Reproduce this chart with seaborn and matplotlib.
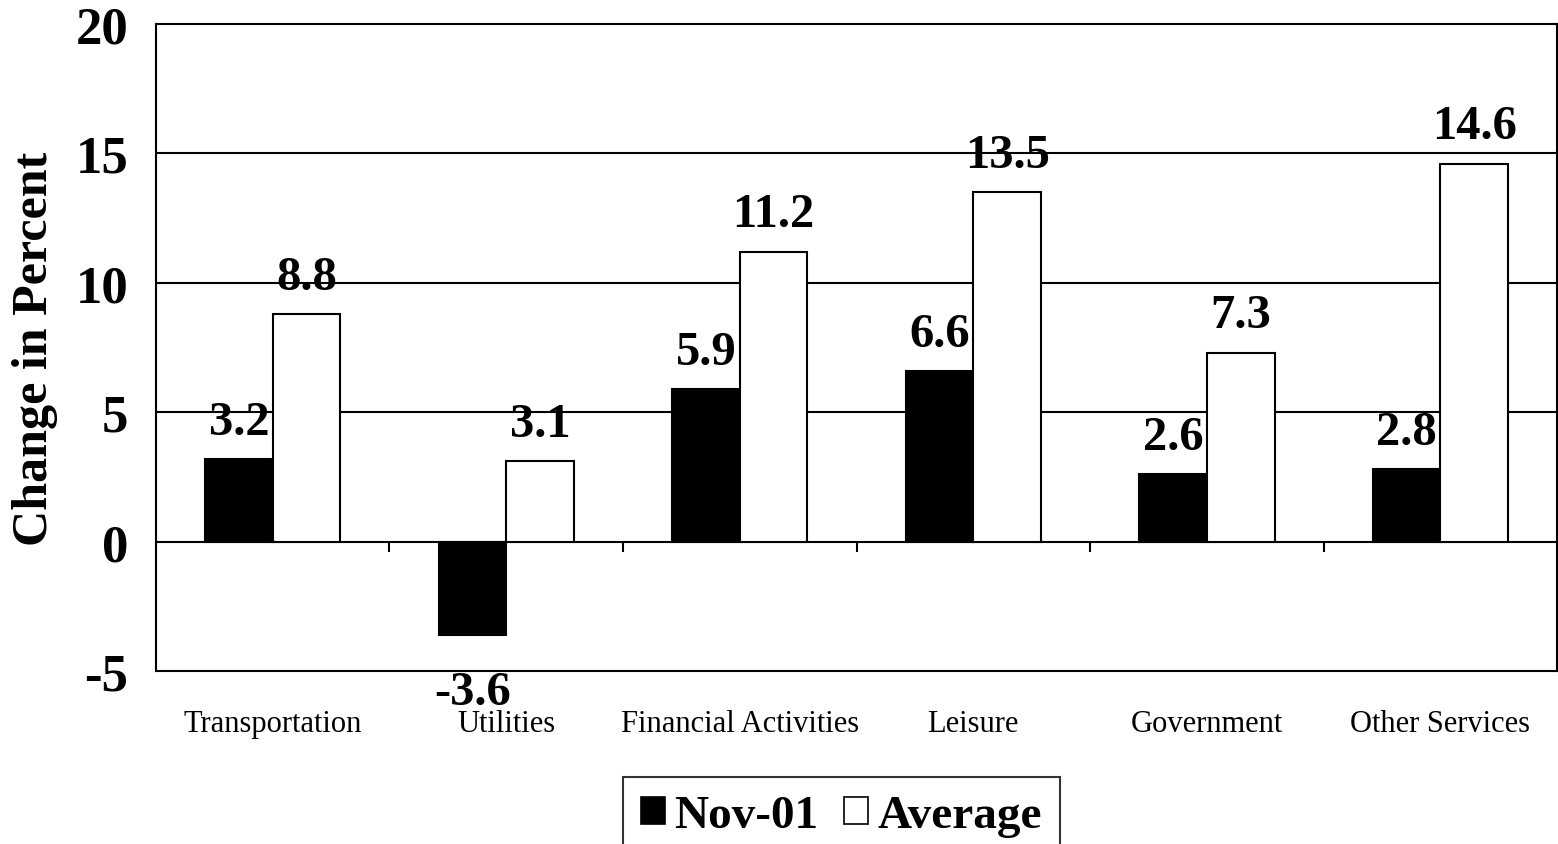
import matplotlib
matplotlib.use("Agg")
import matplotlib.pyplot as plt
from matplotlib.patches import Patch
import seaborn as sns
import pandas as pd
import numpy as np

categories = ["Transportation", "Utilities", "Financial Activities",
              "Leisure", "Government", "Other Services"]
nov01 = [3.2, -3.6, 5.9, 6.6, 2.6, 2.8]
average = [8.8, 3.1, 11.2, 13.5, 7.3, 14.6]
series_names = ["Nov-01", "Average"]
y_ticks = [-5, 0, 5, 10, 15, 20]

df = pd.DataFrame({
    "category": categories * 2,
    "value": nov01 + average,
    "series": [series_names[0]] * len(categories) + [series_names[1]] * len(categories),
})

sns.set_theme(style="white")
plt.rcParams["font.family"] = ["Liberation Serif", "DejaVu Serif"]
plt.rcParams["text.color"] = "black"
plt.rcParams["axes.labelcolor"] = "black"
plt.rcParams["xtick.color"] = "black"
plt.rcParams["ytick.color"] = "black"

fig = plt.figure(figsize=(15.58, 8.45), dpi=100)
ax = fig.add_axes([0.1001, 0.2047, 0.8993, 0.7657])

colors = {"Nov-01": "black", "Average": "white"}
sns.barplot(data=df, x="category", y="value", hue="series", order=categories,
            hue_order=series_names, palette=colors, edgecolor="black",
            linewidth=1.5, width=0.58, ax=ax, legend=False, zorder=3)

ax.set_ylim(y_ticks[0], y_ticks[-1])
ax.set_xlim(-0.5, len(categories) - 0.5)
ax.set_yticks(y_ticks)
ax.set_yticklabels([str(t) for t in y_ticks], fontsize=38, fontweight="bold")
ax.tick_params(axis="y", direction="out", length=10, width=1.5, pad=10, colors="black")
ax.tick_params(axis="x", length=0, pad=27, labelsize=22, colors="black")

# horizontal grid lines behind the bars
for t in y_ticks[1:-1]:
    ax.axhline(t, color="black", lw=1.5, zorder=1)

# category separators hanging below the zero line
bounds = np.arange(len(categories) - 1) + 0.5
ax.vlines(bounds, 0, -0.4, color="black", lw=1.5, zorder=2)

for side in ["left", "right", "top", "bottom"]:
    ax.spines[side].set_visible(True)
    ax.spines[side].set_color("black")
    ax.spines[side].set_linewidth(1.5)

ax.set_xlabel("")
ax.set_ylabel("Change in Percent", fontsize=36, fontweight="bold", color="black")
ax.yaxis.set_label_coords(-0.0696, 0.5)

# value labels
for container in ax.containers:
    for bar in container:
        h = bar.get_height()
        x = bar.get_x() + bar.get_width() / 2
        if h >= 0:
            ax.annotate(f"{h:.1f}", (x, h), xytext=(0, 11), textcoords="offset points",
                        ha="center", va="bottom", fontsize=35, fontweight="bold",
                        color="black", zorder=5)
        else:
            ax.annotate(f"{h:.1f}", (x, h), xytext=(0, -25), textcoords="offset points",
                        ha="center", va="top", fontsize=35, fontweight="bold",
                        color="black", zorder=5)

handles = [Patch(facecolor=colors[s], edgecolor="black", linewidth=1.2) for s in series_names]
leg = fig.legend(handles, series_names, loc="upper center", bbox_to_anchor=(0.54, 0.0793),
                 ncol=2, frameon=True, fancybox=False, edgecolor="black",
                 prop={"family": "Liberation Serif", "weight": "bold", "size": 34},
                 handlelength=0.5, handleheight=0.5, handletextpad=0.2,
                 columnspacing=0.55, borderpad=0.38, borderaxespad=0)
leg.get_frame().set_linewidth(1.5)
for txt in leg.get_texts():
    txt.set_color("black")

fig.savefig("out.png", dpi=100)
